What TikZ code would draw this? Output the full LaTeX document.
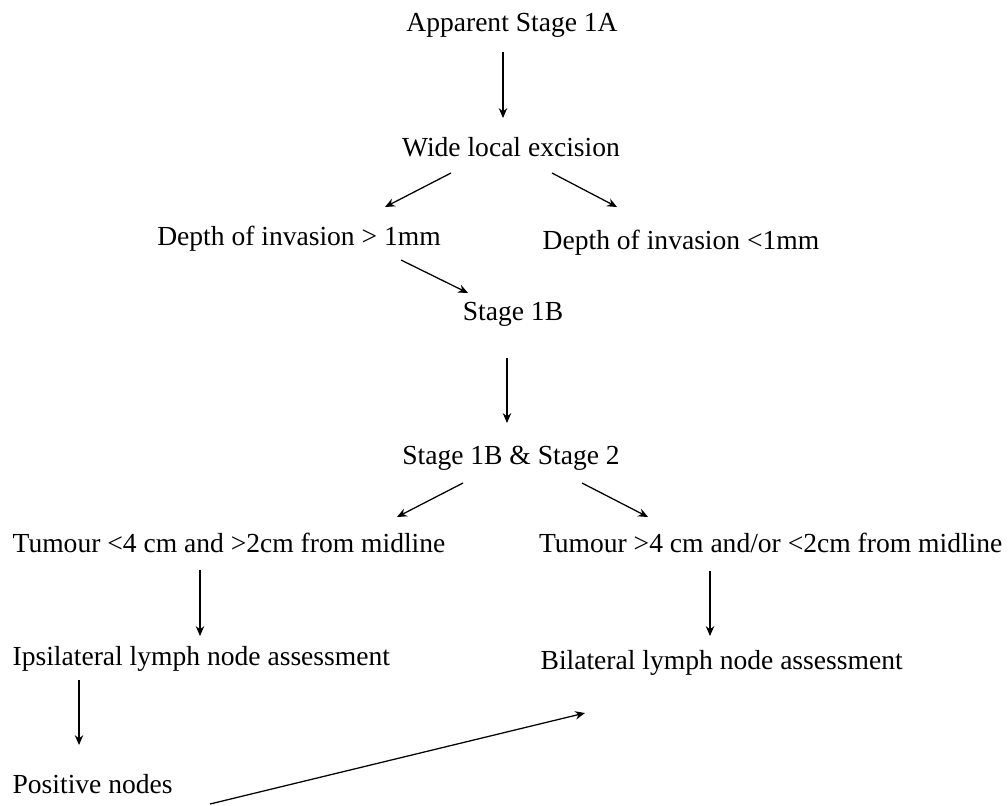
\documentclass[tikz,border=0pt]{standalone}
\usepackage{fontspec}
\setmainfont{Liberation Serif}
\usetikzlibrary{arrows.meta}

\begin{document}
\begin{tikzpicture}[%
    >={Stealth[length=7pt, width=6pt]},
    x=0.025cm,
    y=-0.025cm,
    every node/.style={font=\fontsize{19.6}{24}\selectfont, inner sep=0pt},
    line width=0.9pt
  ]
  \useasboundingbox (0,0) rectangle (1008,805);

  \node[anchor=base] (app) at (512,31) {Apparent Stage 1A};
  \node[anchor=base] (wle) at (511,156) {Wide local excision};
  \node[anchor=base] (deep) at (299,245) {Depth of invasion > 1mm};
  \node[anchor=base] (shallow) at (681,249) {Depth of invasion <1mm};
  \node[anchor=base] (s1b) at (513,320) {Stage 1B};
  \node[anchor=base] (s12) at (511,464) {Stage 1B \& Stage 2};
  \node[anchor=base west] (small) at (12,552) {Tumour <4 cm and >2cm from midline};
  \node[anchor=base east] (large) at (1003,552) {Tumour >4 cm and/or <2cm from midline};
  \node[anchor=base west] (ipsi) at (12,665) {Ipsilateral lymph node assessment};
  \node[anchor=base west] (bila) at (540,669) {Bilateral lymph node assessment};
  \node[anchor=base west] (pos) at (12,793) {Positive nodes};

  \path[->]
    ([shift={(-9,21)}]app.base) edge ([shift={(-8,-38)}]wle.base)
    ([shift={(-60,17)}]wle.base) edge ([shift={(86,-38)}]deep.base)
    ([shift={(41,17)}]wle.base) edge ([shift={(-64,-42)}]shallow.base)
    ([shift={(102,15)}]deep.base) edge ([shift={(-45,-27)}]s1b.base)
    ([shift={(-6,38)}]s1b.base) edge ([shift={(-4,-41)}]s12.base)
    ([shift={(-48,19)}]s12.base) edge ([shift={(385,-35)}]small.base west)
    ([shift={(71,19)}]s12.base) edge ([shift={(-355,-35)}]large.base east)
    ([shift={(188,18)}]small.base west) edge ([shift={(188,-29)}]ipsi.base west)
    ([shift={(-293,19)}]large.base east) edge ([shift={(170,-33)}]bila.base west)
    ([shift={(67,15)}]ipsi.base west) edge ([shift={(67,-48)}]pos.base west)
    ([shift={(198,11)}]pos.base west) edge ([shift={(45,44)}]bila.base west);
\end{tikzpicture}
\end{document}
